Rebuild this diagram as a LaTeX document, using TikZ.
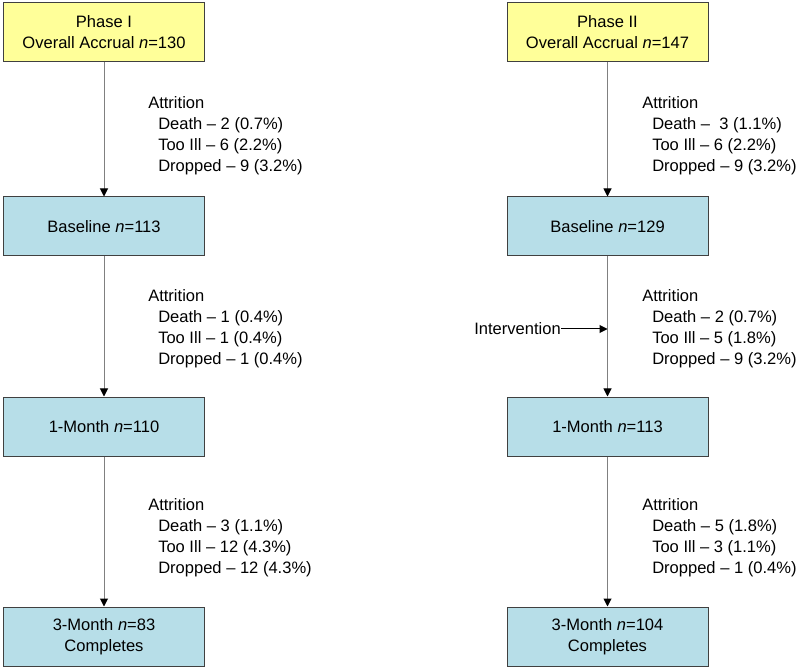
\documentclass[tikz,border=0pt]{standalone}
\usepackage{fontspec}
\setmainfont{Liberation Sans}
\usepackage{tikz}
\usetikzlibrary{positioning,arrows.meta}
\definecolor{accrual}{HTML}{FFFF99}
\definecolor{visit}{HTML}{B7DEE8}
\definecolor{rim}{HTML}{404040}
\tikzset{box/.style = {rectangle,draw=rim,line width=0.75pt,align=center,minimum width=150.75pt,minimum height=44.25pt,inner sep=0pt,font=\fontsize{12.4}{15.75}\selectfont}}
\tikzset{phase/.style = {box,fill=accrual}}
\tikzset{stage/.style = {box,fill=visit}}
\tikzset{note/.style = {inner sep=0pt,align=left,anchor=west,font=\fontsize{12.4}{15.75}\selectfont}}
\tikzset{flow/.style = {draw=gray,line width=0.75pt,-{Triangle[black,length=6pt,width=6pt]}}}
\newcommand{\ind}{\hspace*{7.5pt}}

\begin{document}
\begin{tikzpicture}[x=0.75pt,y=-0.75pt]
                    \useasboundingbox (0,0) rectangle (800,670);
                    % Phase I
                    \node [phase] (p1) at (104,32.5) {Phase I\\Overall Accrual \textit{n}=130};
                    \node [stage] (b1) at (104,226.5) {Baseline \textit{n}=113};
                    \node [stage] (m1) at (104,426.5) {1-Month \textit{n}=110};
                    \node [stage] (t1) at (104,636.5) {3-Month \textit{n}=83\\Completes};
                    % Phase II
                    \node [phase] (p2) at (607.5,32.5) {Phase II\\Overall Accrual \textit{n}=147};
                    \node [stage] (b2) at (607.5,226.5) {Baseline \textit{n}=129};
                    \node [stage] (m2) at (607.5,426.5) {1-Month \textit{n}=113};
                    \node [stage] (t2) at (607.5,636.5) {3-Month \textit{n}=104\\Completes};
                    \foreach \a/\b in {p1/b1,b1/m1,m1/t1,p2/b2,b2/m2,m2/t2} {
                        \draw [flow] (\a) -- (\b);
                    }
                    % attrition
                    \node [note] (a1) at (148,135.5) {Attrition\\\ind Death – 2 (0.7\%)\\\ind Too Ill – 6 (2.2\%)\\\ind Dropped – 9 (3.2\%)};
                    \node [note] (a2) at (148,329) {Attrition\\\ind Death – 1 (0.4\%)\\\ind Too Ill – 1 (0.4\%)\\\ind Dropped – 1 (0.4\%)};
                    \node [note] (a3) at (148,537.5) {Attrition\\\ind Death – 3 (1.1\%)\\\ind Too Ill – 12 (4.3\%)\\\ind Dropped – 12 (4.3\%)};
                    \node [note] (a4) at (642,135.5) {Attrition\\\ind Death –\ \ 3 (1.1\%)\\\ind Too Ill – 6 (2.2\%)\\\ind Dropped – 9 (3.2\%)};
                    \node [note] (a5) at (642,329) {Attrition\\\ind Death – 2 (0.7\%)\\\ind Too Ill – 5 (1.8\%)\\\ind Dropped – 9 (3.2\%)};
                    \node [note] (a6) at (642,537.5) {Attrition\\\ind Death – 5 (1.8\%)\\\ind Too Ill – 3 (1.1\%)\\\ind Dropped – 1 (0.4\%)};
                    \node [note,anchor=east] (iv) at (561,329) {Intervention};
                    \draw [flow,draw=black] (iv) -- (iv -| b2);
                \end{tikzpicture}
\end{document}
